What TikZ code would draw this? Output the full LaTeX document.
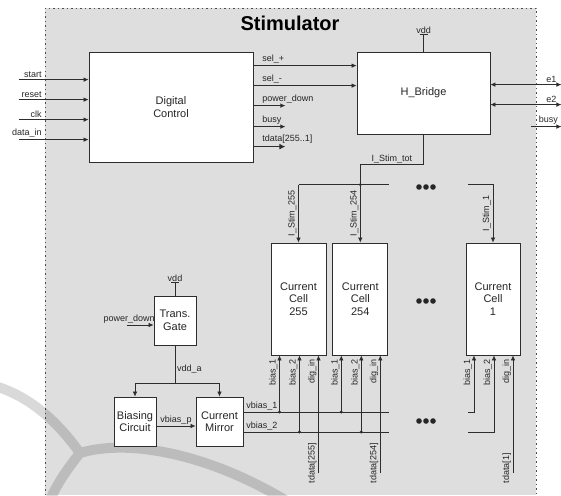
\documentclass[tikz,border=0pt]{standalone}
\usepackage{fontspec}
\setmainfont{Liberation Sans}
\usetikzlibrary{arrows.meta, positioning, calc}
\definecolor{panelgray}{RGB}{222,222,222}
\definecolor{wire}{RGB}{45,45,45}
\tikzset{
  block/.style={draw=wire, fill=white, line width=0.8pt, inner sep=0pt, align=center, text=black!85, font=\fontsize{11}{12.5}\selectfont},
  sig/.style={draw=wire, line width=0.7pt},
  arr/.style={sig, -{Latex[length=5pt, width=4.5pt]}},
  lbl/.style={text=black!85, inner sep=0.8pt, font=\fontsize{9}{10}\selectfont},
  vlbl/.style={lbl, rotate=90}
}

\begin{document}
\begin{tikzpicture}[x=1pt, y=-1pt]
  \useasboundingbox (0,0) rectangle (561,495);
  % panel + watermark
  \fill[panelgray] (45,8) rectangle (536,495);
  \draw[black!70, line width=0.8pt, dash pattern=on 1.5pt off 3pt] (45,495) -- (45,8) -- (536,8) -- (536,495);
  \draw[black, opacity=0.15, line width=10pt] (-5,386) .. controls (35,398) and (62,428) .. (80,453)
    (80,453) .. controls (68,468) and (58,482) .. (50,500)
    (80,453) .. controls (130,438) and (210,455) .. (285,500);
  \node[font=\bfseries\fontsize{20}{24}\selectfont] (title) at (290,23) {Stimulator};

  % blocks
  \node[block, minimum width=164pt, minimum height=110pt] (dc) at (171,107) {Digital\\Control};
  \node[block, minimum width=133pt, minimum height=82pt] (hb) at (423.5,93) {H\_Bridge};
  \node[block, minimum width=55pt, minimum height=112pt] (cell255) at (298.5,299) {Current\\Cell\\255};
  \node[block, minimum width=55pt, minimum height=112pt, right=6pt of cell255] (cell254) {Current\\Cell\\254};
  \node[block, minimum width=54pt, minimum height=112pt] (cell1) at (493,299) {Current\\Cell\\1};
  \node[block, minimum width=42pt, minimum height=49pt] (tg) at (175,320.5) {Trans.\\Gate};
  \node[block, minimum width=42pt, minimum height=49pt] (bc) at (135,421.5) {Biasing\\Circuit};
  \node[block, minimum width=47pt, minimum height=49pt] (cm) at (219.5,421.5) {Current\\Mirror};

  % digital control in / out
  \foreach \nm/\txt/\dy in {start/start/28, reset/reset/48, clk/clk/68, din/data\_in/88} {
    \coordinate (in-\nm) at ($(dc.north west)+(-70,\dy)$);
    \draw[arr] (in-\nm) -- (in-\nm -| dc.west);
    \node[lbl, anchor=south east] (l-\nm) at ($(in-\nm)+(24,-1)$) {\txt};
  }
  \foreach \nm/\txt/\dy in {selp/sel\_+/14, selm/sel\_-/34} {
    \draw[arr] ($(dc.north east)+(0,\dy)$) coordinate (o-\nm) -- (o-\nm -| hb.west);
    \node[lbl, anchor=south west] (l-\nm) at ($(o-\nm)+(8,-1)$) {\txt};
  }
  \foreach \nm/\txt/\dy in {pd/power\_down/54, busy/busy/75} {
    \draw[arr] ($(dc.north east)+(0,\dy)$) coordinate (o-\nm) -- ++(32,0) coordinate (e-\nm);
    \node[lbl, anchor=south west] (l-\nm) at ($(o-\nm)+(8,-1)$) {\txt};
  }
  \draw[sig, line width=1.1pt, -{Latex[length=6pt, width=6pt]}] ($(dc.north east)+(0,95)$) coordinate (o-td) -- ++(32,0) coordinate (e-td);
  \node[lbl, anchor=south west] (l-td) at ($(o-td)+(8,-2)$) {tdata[255..1]};

  % H bridge
  \draw[sig] (hb.north) -- ++(0,-17) coordinate (hbvdd) ++(-4,0) -- ++(8,0);
  \node[lbl, anchor=south] (l-hbvdd) at (hbvdd) {vdd};
  \foreach \nm/\dy in {e1/33, e2/53} {
    \coordinate (x-\nm) at ($(hb.north east)+(71,\dy)$);
    \draw[sig, {Latex[length=5pt, width=4.5pt]}-{Latex[length=5pt, width=4.5pt]}] (hb.east |- x-\nm) -- (x-\nm);
    \node[lbl, anchor=south] (l-\nm) at ($(x-\nm)+(-10,-1)$) {\nm};
  }
  \coordinate (busyout) at ($(hb.north east)+(71,75)$);
  \draw[arr] ($(busyout)+(-30,0)$) coordinate (busyin) -- (busyout);
  \node[lbl, anchor=south] (l-busyout) at ($(busyout)+(-13,-1)$) {busy};

  % current bus
  \coordinate (stimbend) at ($(hb.south)+(0,30)$);
  \draw[arr] (hb.south) -- (stimbend) -| node[lbl, pos=0.25, anchor=south] (l-tot) {I\_Stim\_tot} (cell254.north);
  \coordinate (bus) at ($(cell254.north)+(0,-58)$);
  \fill[wire] (bus) circle (1.6);
  \draw[sig] (bus -| cell255.north) -- ($(bus)+(29,0)$) coordinate (busend);
  \draw[arr] (bus -| cell255.north) -- (cell255.north);
  \coordinate (busrest) at ($(bus -| cell1.north)+(-25,0)$);
  \draw[arr] (busrest) -| (cell1.north);
  \foreach \c/\t in {cell255/255, cell254/254, cell1/1}
    \node[vlbl, anchor=south] (ls-\t) at ($(\c.north)+(-1,-29)$) {I\_Stim\_\t};
  \foreach \y in {187, 301, 421}
    \foreach \dx in {-7, 0, 7}
      \fill[black!85] (426+\dx,\y) circle (2.8);

  % bias network
  \draw[sig] (tg.north) -- ++(0,-13) coordinate (tgvdd) ++(-4,0) -- ++(8,0);
  \node[lbl, anchor=south] (l-tgvdd) at (tgvdd) {vdd};
  \coordinate (pdin) at ($(tg.west)+(-27,4.5)$);
  \draw[arr] (pdin) -- (pdin -| tg.west);
  \node[lbl, anchor=south east] (l-pdin) at ($(pdin -| tg.west)+(2,-1)$) {power\_down};
  \draw[sig] (tg.south) -- ++(0,38) coordinate (vdda);
  \draw[arr] (vdda) -| (bc.north);
  \draw[arr] (vdda) -| (cm.north);
  \node[lbl, anchor=west] (l-vdda) at ($(tg.south)+(1,24)$) {vdd\_a};
  \draw[arr] ($(bc.east)+(0,4.5)$) coordinate (vbp) -- node[lbl, anchor=south] (l-vbp) {vbias\_p} (vbp -| cm.west);
  \coordinate (vb1) at ($(cm.east)+(0,-9.5)$);
  \coordinate (vb2) at ($(cm.east)+(0,10.5)$);
  \draw[sig] (vb1) -- (vb1 -| busend);
  \draw[sig] (vb2) -- (vb2 -| busend);
  \node[lbl, anchor=south west] (l-vb1) at ($(vb1)+(2,-1)$) {vbias\_1};
  \node[lbl, anchor=south west] (l-vb2) at ($(vb2)+(2,-1)$) {vbias\_2};

  % cell inputs
  \foreach \c/\t in {cell255/255, cell254/254, cell1/1} {
    \coordinate (\c-b1) at ($(\c.south)+(-19,0)$);
    \coordinate (\c-b2) at ($(\c.south)+(1,0)$);
    \coordinate (\c-di) at ($(\c.south)+(20,0)$);
    \draw[arr] ($(\c-di)+(0,118)$) coordinate (\c-td) -- (\c-di);
    \node[vlbl, anchor=south east] (lb1-\t) at ($(\c-b1)+(-1,3)$) {bias\_1};
    \node[vlbl, anchor=south east] (lb2-\t) at ($(\c-b2)+(-1,3)$) {bias\_2};
    \node[vlbl, anchor=south east] (ldi-\t) at ($(\c-di)+(-1,3)$) {dig\_in};
    \node[vlbl, anchor=south west] (ltd-\t) at ($(\c-td)+(-1,11)$) {tdata[\t]};
  }
  \foreach \c in {cell255, cell254} {
    \draw[arr] (vb1 -| \c-b1) -- (\c-b1);
    \draw[arr] (vb2 -| \c-b2) -- (\c-b2);
    \fill[wire] (vb1 -| \c-b1) circle (1.6) (vb2 -| \c-b2) circle (1.6);
  }
  \draw[arr] (vb1 -| busrest) -| (cell1-b1);
  \draw[arr] (vb2 -| busrest) -| (cell1-b2);
\end{tikzpicture}
\end{document}
